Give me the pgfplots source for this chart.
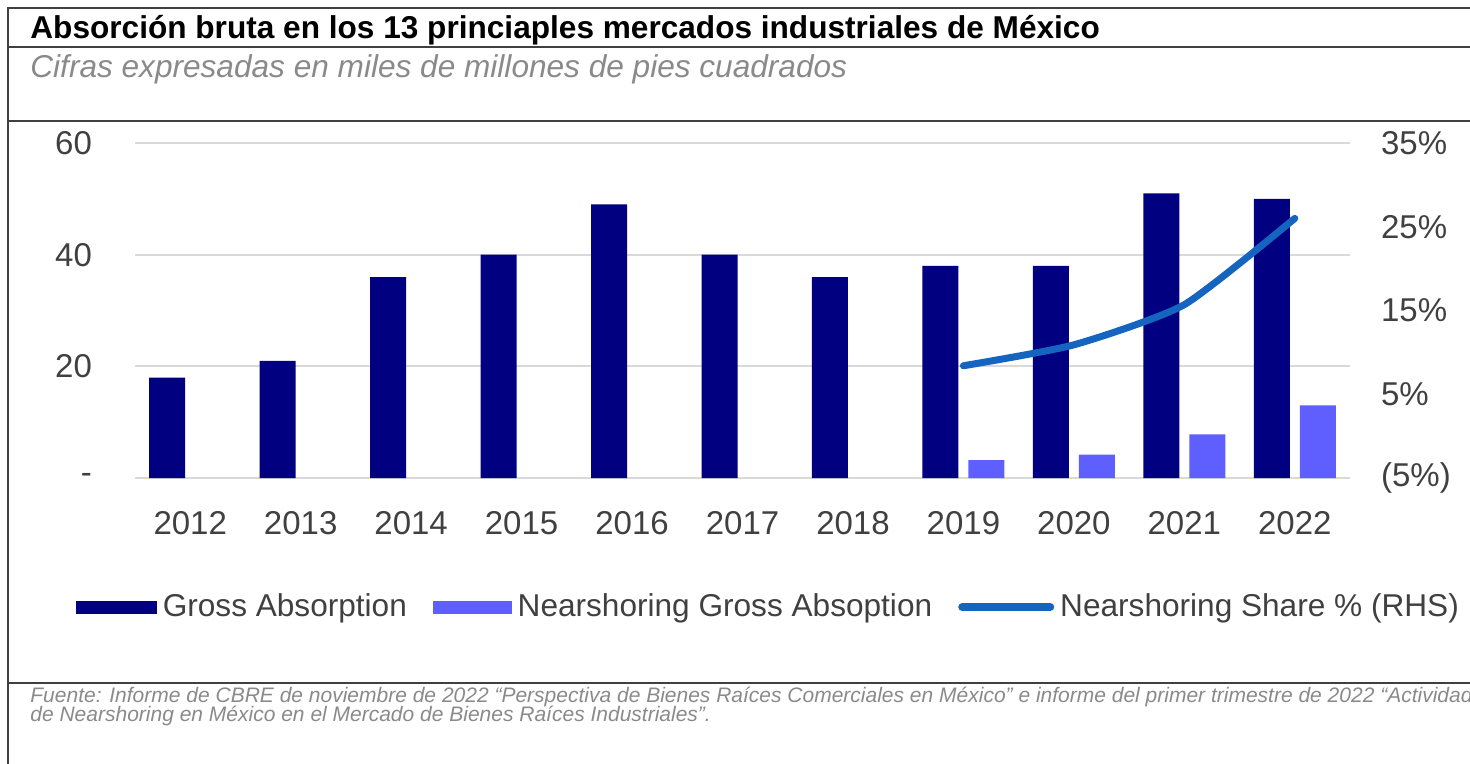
\documentclass[border=0pt]{standalone}
\usepackage{pgfplots}
\pgfplotsset{compat=1.18}
\usepackage{pgfplotstable}
\usepackage{fontspec}
\setmainfont{Liberation Sans}

\definecolor{navybar}{HTML}{000080}
\definecolor{lightbar}{HTML}{5F5FFF}
\definecolor{shareline}{HTML}{1565C0}
\definecolor{gridgray}{HTML}{D9D9D9}
\definecolor{framegray}{HTML}{404040}
\definecolor{txtgray}{HTML}{404040}
\definecolor{notegray}{HTML}{8A8A8A}

% gross absorption, all years (x = 0 is 2012)
\pgfplotstableread{
x y
0 18
1 21
2 36
3 40
4 49
5 40
6 36
7 38
8 38
9 51
10 50
}\gross

% nearshoring gross absorption
\pgfplotstableread{
x y
7 3.2
8 4.2
9 7.8
10 13.0
}\near

% nearshoring share in percent (right axis)
\pgfplotstableread{
x y
7 8.4
8 10.9
9 15.7
10 26.0
}\share

\begin{document}
\begin{tikzpicture}
% frame and texts, in pixels of the reference (1px = 0.5pt), y downwards
\begin{scope}[x=0.5pt,y=-0.5pt]
  \draw[framegray, line width=1pt] (1500,8) -- (8,8) -- (8,800);
  \draw[framegray, line width=1pt] (8,47) -- (1500,47);
  \draw[framegray, line width=1pt] (8,121) -- (1500,121);
  \draw[framegray, line width=1pt] (8,683) -- (1500,683);
  \node[anchor=base west, inner sep=0pt, font=\bfseries\fontsize{15.8}{18}\selectfont]
    at (30,39) {Absorción bruta en los 13 princiaples mercados industriales de México};
  \node[anchor=base west, inner sep=0pt, text=notegray, font=\itshape\fontsize{15.8}{18}\selectfont]
    at (30,78) {Cifras expresadas en miles de millones de pies cuadrados};
  \node[anchor=base west, inner sep=0pt, text=notegray, font=\itshape\fontsize{10.5}{12}\selectfont]
    at (30,702) {Fuente: Informe de CBRE de noviembre de 2022 “Perspectiva de Bienes Raíces Comerciales en México” e informe del primer trimestre de 2022 “Actividad};
  \node[anchor=base west, inner sep=0pt, text=notegray, font=\itshape\fontsize{10.5}{12}\selectfont]
    at (30,721) {de Nearshoring en México en el Mercado de Bienes Raíces Industriales”.};
\end{scope}

\pgfplotsset{
  chartbase/.style={
    at={(67.5pt,-239pt)}, anchor=south west,
    scale only axis, width=607.5pt, height=167.5pt,
    xmin=-0.5, xmax=10.5,
    axis line style={draw=none},
    major tick length=0pt,
    /pgf/number format/assume math mode=true,
    tick label style={font=\fontsize{16.5}{18}\selectfont, text=txtgray},
    clip=false,
  }
}

\begin{axis}[
  chartbase,
  ymin=0, ymax=60,
  xtick={0,...,10},
  xticklabels={2012,2013,2014,2015,2016,2017,2018,2019,2020,2021,2022},
  ytick={0,20,40,60},
  yticklabels={-,20,40,60},
  ymajorgrids=true,
  grid style={gridgray, line width=1pt},
  xticklabel style={yshift=-13pt},
  yticklabel style={xshift=-18pt},
]
\addplot[ybar, bar width=18pt, bar shift=-11.5pt, fill=navybar, draw=none] table[x=x, y=y] {\gross};
\addplot[ybar, bar width=18pt, bar shift=11.5pt, fill=lightbar, draw=none] table[x=x, y=y] {\near};
\end{axis}

\begin{axis}[
  chartbase,
  axis x line=none,
  axis y line*=right,
  ymin=-5, ymax=35,
  ytick={-5,5,15,25,35},
  yticklabels={(5\%),5\%,15\%,25\%,35\%},
  yticklabel style={anchor=west, xshift=12pt},
  legend columns=3,
  legend style={
    at={(0.523,-0.385)}, anchor=center, draw=none, fill=none,
    font=\fontsize{15.8}{18}\selectfont, text=txtgray,
    nodes={inner sep=3pt},
    /tikz/every even column/.append style={column sep=10pt},
  },
]
\addlegendimage{legend image code/.code={\fill[navybar] (0pt,-3pt) rectangle (40pt,3pt);}}
\addlegendentry{Gross Absorption}
\addlegendimage{legend image code/.code={\fill[lightbar] (0pt,-3pt) rectangle (39pt,3pt);}}
\addlegendentry{Nearshoring Gross Absoption}
\addplot[shareline, line width=3.5pt, line cap=round, smooth, tension=0.35,
  legend image code/.code={\draw[shareline, line width=4pt, line cap=round] (0pt,0pt) -- (44pt,0pt);}]
  table[x=x, y=y] {\share};
\addlegendentry{Nearshoring Share \% (RHS)}
\end{axis}

\pgfresetboundingbox
\path[use as bounding box] (0,0) rectangle (735pt,-382pt);
\end{tikzpicture}
\end{document}
